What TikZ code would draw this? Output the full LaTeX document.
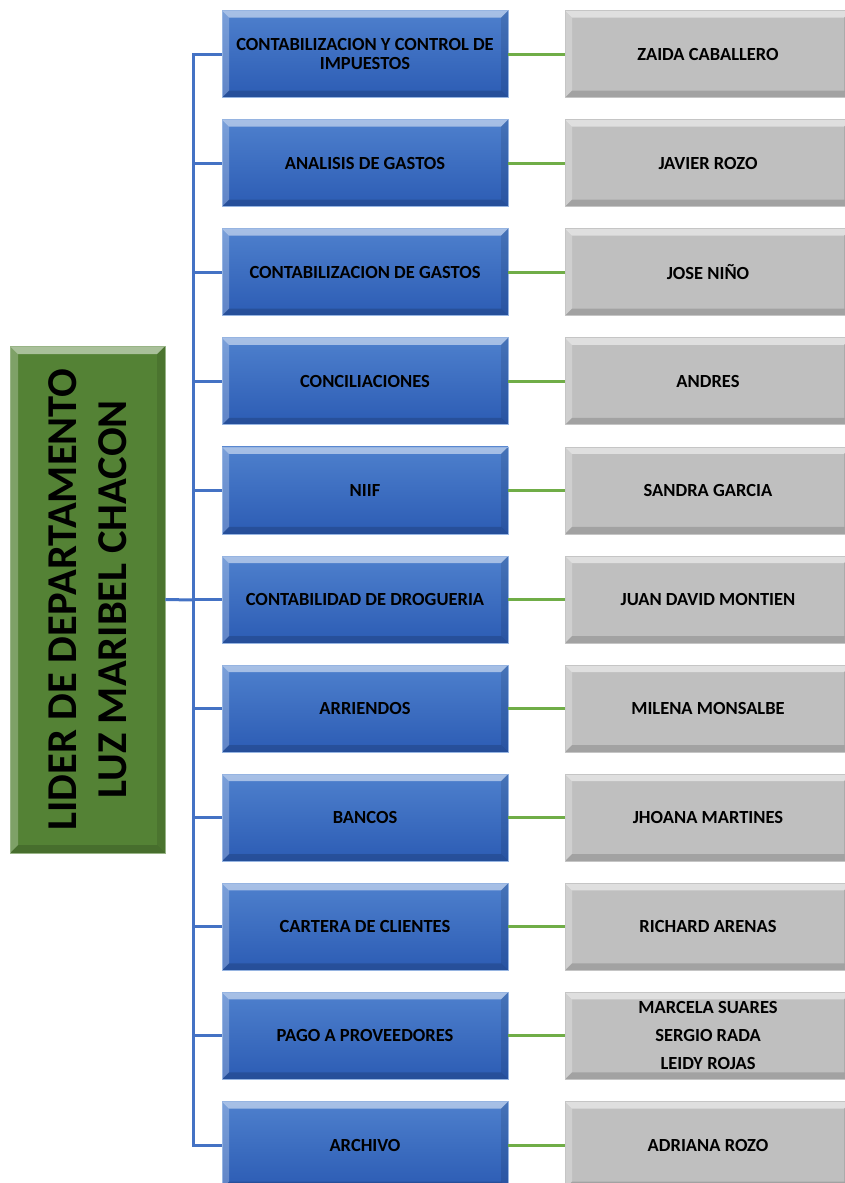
\documentclass[tikz,border=0pt]{standalone}
\usepackage{fontspec}
\setmainfont{Carlito}
\usepackage{xcolor}

\definecolor{boxtop}{RGB}{78,128,205}
\definecolor{boxbot}{RGB}{44,92,180}
\definecolor{boxedge}{RGB}{150,180,225}
\definecolor{grayfill}{RGB}{191,191,191}
\definecolor{liderfill}{RGB}{84,130,53}
\definecolor{trunkcol}{RGB}{68,114,196}
\definecolor{leafcol}{RGB}{112,173,71}

\tikzset{
  % raised edges like a bevelled shape
  bevel/.style={path picture={
    \coordinate (bl) at (path picture bounding box.south west);
    \coordinate (tr) at (path picture bounding box.north east);
    \coordinate (tl) at (path picture bounding box.north west);
    \coordinate (br) at (path picture bounding box.south east);
    \fill[white,opacity=0.5] (tl) -- (tr) -- ([xshift=-#1,yshift=-#1]tr) -- ([xshift=#1,yshift=-#1]tl) -- cycle;
    \fill[white,opacity=0.25] (tl) -- ([xshift=#1,yshift=-#1]tl) -- ([xshift=#1,yshift=#1]bl) -- (bl) -- cycle;
    \fill[black,opacity=0.15] (bl) -- (br) -- ([xshift=-#1,yshift=#1]br) -- ([xshift=#1,yshift=#1]bl) -- cycle;
    \fill[black,opacity=0.1] (tr) -- (br) -- ([xshift=-#1,yshift=#1]br) -- ([xshift=-#1,yshift=-#1]tr) -- cycle;
  }},
  taskbox/.style={rectangle, draw=boxedge, line width=0.8pt, top color=boxtop, bottom color=boxbot,
    minimum width=286pt, minimum height=87pt, inner sep=0pt, align=center,
    font=\fontsize{18.5}{19}\selectfont\bfseries, bevel=7pt},
  namebox/.style={rectangle, draw=grayfill!90!white, line width=0.8pt, fill=grayfill,
    minimum width=286pt, minimum height=87pt, inner sep=0pt, align=center,
    font=\fontsize{18.5}{28}\selectfont\bfseries, bevel=7pt},
  liderbox/.style={rectangle, draw=liderfill!60!white, line width=0.8pt, fill=liderfill,
    minimum width=155pt, minimum height=507pt, inner sep=0pt, bevel=8pt},
  trunk/.style={draw=trunkcol, line width=3pt},
  leaf/.style={draw=leafcol, line width=3pt}
}

\begin{document}
\begin{tikzpicture}[x=1pt, y=-1pt]
  \useasboundingbox (0,0) rectangle (845,1183);

  % leader
  \node[liderbox] (lider) at (87.5,599.5) {};
  \node[rotate=90, align=center, font=\fontsize{42.5}{50}\selectfont\bfseries] at (lider) {LIDER DE DEPARTAMENTO\\LUZ MARIBEL CHACON};
  \coordinate (bus) at (193,600);
  \draw[trunk] (lider.east) -- (bus);

  % areas and people
  \foreach \i/\area/\who in {
    0/{CONTABILIZACION Y CONTROL DE\\IMPUESTOS}/{ZAIDA CABALLERO},
    1/{ANALISIS DE GASTOS}/{JAVIER ROZO},
    2/{CONTABILIZACION DE GASTOS}/{JOSE NIÑO},
    3/{CONCILIACIONES}/{ANDRES},
    4/{NIIF}/{SANDRA GARCIA},
    5/{CONTABILIDAD DE DROGUERIA}/{JUAN DAVID MONTIEN},
    6/{ARRIENDOS}/{MILENA MONSALBE},
    7/{BANCOS}/{JHOANA MARTINES},
    8/{CARTERA DE CLIENTES}/{RICHARD ARENAS},
    9/{PAGO A PROVEEDORES}/{MARCELA SUARES\\SERGIO RADA\\LEIDY ROJAS},
    10/{ARCHIVO}/{ADRIANA ROZO}}
  {
    \node[taskbox] (area\i) at (365,54+109.1*\i) {\area};
    \node[namebox] (who\i) at (708,54+109.1*\i) {\who};
    \draw[trunk] (area\i.west) -| (bus);
    \draw[leaf] (area\i.east) -- (who\i.west);
  }
\end{tikzpicture}
\end{document}
